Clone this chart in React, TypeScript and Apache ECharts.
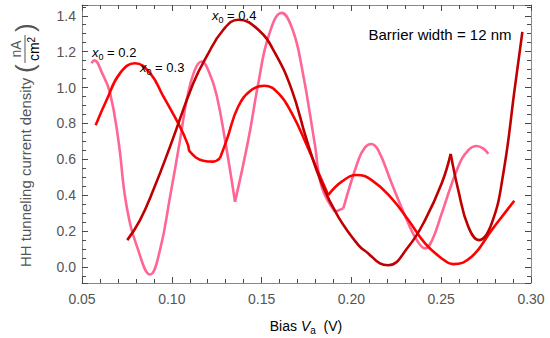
import React, { useEffect, useRef } from 'react';
import * as echarts from 'echarts';

const FONT = '"Liberation Sans", Arial, Helvetica, sans-serif';

// Axis ranges and tick spacing
const xRange = [0.05, 0.3];
const xMajorStep = 0.05;
const xMinorStep = 0.01;
const yRange = [-0.09, 1.46];
const yMajorStep = 0.2;
const yMinorStep = 0.05;

// Curves: [bias V, current density nA/cm^2]
const curveX02 = [
  [0.0553, 1.135], [0.0569, 1.151], [0.0612, 1.08], [0.0656, 0.97], [0.0702, 0.71], [0.0749, 0.335],
  [0.0813, 0.093], [0.0879, -0.043], [0.0934, 0.093], [0.099, 0.39], [0.1046, 0.708], [0.1083, 0.93],
  [0.1125, 1.09], [0.1166, 1.145], [0.121, 1.08], [0.125, 0.955], [0.1296, 0.71], [0.1352, 0.363],
  [0.1426, 0.708], [0.1482, 1.025], [0.154, 1.29], [0.1612, 1.416], [0.167, 1.33], [0.1723, 1.117],
  [0.1797, 0.68], [0.1834, 0.447], [0.1909, 0.307], [0.1955, 0.326], [0.2039, 0.596], [0.2075, 0.665],
  [0.211, 0.685], [0.215, 0.65], [0.2224, 0.466], [0.2317, 0.242], [0.237, 0.14], [0.241, 0.103],
  [0.245, 0.15], [0.2503, 0.298], [0.2595, 0.559], [0.265, 0.65], [0.2698, 0.674], [0.274, 0.655],
  [0.2762, 0.63],
];
const cuspsX02 = [0.1352, 0.1909, 0.1955];

const curveX03 = [
  [0.0576, 0.79], [0.0637, 0.93], [0.0712, 1.08], [0.0795, 1.135], [0.0879, 1.08], [0.0953, 0.95],
  [0.1046, 0.78], [0.109, 0.68], [0.1101, 0.642], [0.1175, 0.592], [0.1231, 0.587], [0.1268, 0.606],
  [0.1306, 0.708], [0.137, 0.894], [0.1445, 0.987], [0.1515, 1.01], [0.1593, 0.969], [0.1668, 0.857],
  [0.1751, 0.68], [0.181, 0.54], [0.1871, 0.4], [0.1946, 0.475], [0.203, 0.512], [0.2113, 0.484],
  [0.2224, 0.382], [0.2317, 0.261], [0.241, 0.131], [0.2503, 0.047], [0.2567, 0.015], [0.2669, 0.056],
  [0.2781, 0.205], [0.2907, 0.369],
];
const cuspsX03 = [0.1268, 0.1871];

const curveX04 = [
  [0.0752, 0.149], [0.0823, 0.261], [0.0897, 0.428], [0.099, 0.67], [0.112, 1.025], [0.1194, 1.173],
  [0.1287, 1.322], [0.137, 1.378], [0.1482, 1.322], [0.1575, 1.192], [0.1668, 0.987], [0.1751, 0.708],
  [0.1834, 0.466], [0.1927, 0.279], [0.2039, 0.121], [0.2094, 0.075], [0.2159, 0.019], [0.2205, 0.009],
  [0.2317, 0.112], [0.241, 0.261], [0.2503, 0.466], [0.2553, 0.63], [0.2595, 0.428], [0.2651, 0.223],
  [0.271, 0.149], [0.2781, 0.242], [0.2846, 0.522], [0.2911, 1.006], [0.2952, 1.31],
];
const cuspsX04 = [0.2553];

const curveColors = ['#FF6694', '#FF0000', '#C00000'];
const curveLabels = ['0.2', '0.3', '0.4'];

function splitAtCusps(points: number[][], cusps: number[]) {
  const segs: number[][][] = [];
  let cur: number[][] = [];
  for (const p of points) {
    cur.push(p);
    if (cusps.includes(p[0])) {
      segs.push(cur);
      cur = [p];
    }
  }
  if (cur.length > 1) segs.push(cur);
  return segs;
}

export default function App() {
  const ref = useRef<HTMLDivElement>(null);

  useEffect(() => {
    document.body.style.margin = '0';
    if (!ref.current) return;
    const chart = echarts.init(ref.current, undefined, { renderer: 'svg' });

    const curves = [
      [curveX02, cuspsX02],
      [curveX03, cuspsX03],
      [curveX04, cuspsX04],
    ] as [number[][], number[]][];

    const series: any[] = [];
    curves.forEach(([pts, cusps], ci) => {
      splitAtCusps(pts, cusps).forEach((seg) => {
        series.push({
          type: 'line',
          name: 'x0 = ' + curveLabels[ci],
          data: seg,
          smooth: 0.45,
          showSymbol: false,
          symbol: 'none',
          lineStyle: { color: curveColors[ci], width: 2.6 },
          z: 2 + ci,
          xAxisIndex: 0,
          yAxisIndex: 0,
        });
      });
    });

    const frame = '#888888';
    const tickColor = '#4a4a4a';
    const ySpan = yRange[1] - yRange[0];

    const yLabel = (v: number) => {
      const r = Math.round(v / yMajorStep) * yMajorStep;
      return Math.abs(v - r) < 1e-6 && r >= 0 ? r.toFixed(1) : '';
    };

    const labRich = {
      i: { fontStyle: 'italic', fontSize: 13, lineHeight: 18, fontFamily: FONT, color: '#000' },
      s: { fontSize: 9, lineHeight: 8, verticalAlign: 'bottom', fontFamily: FONT, color: '#000' },
      n: { fontSize: 13, lineHeight: 18, fontFamily: FONT, color: '#000' },
    };

    const option: any = {
      animation: false,
      grid: { left: 82, right: 19, top: 5, bottom: 55, outerBoundsMode: 'none' },
      xAxis: [
        {
          type: 'value', min: xRange[0], max: xRange[1], interval: xMajorStep, position: 'bottom',
          splitLine: { show: false },
          axisLine: { show: true, onZero: false, lineStyle: { color: frame, width: 1 } },
          axisTick: { show: true, inside: true, length: 6, lineStyle: { color: tickColor, width: 1 } },
          axisLabel: {
            formatter: (v: number) => v.toFixed(2), color: '#555',
            fontSize: 14, fontFamily: FONT, margin: 9, showMinLabel: true, showMaxLabel: true,
          },
        },
        {
          type: 'value', min: xRange[0], max: xRange[1], interval: xMinorStep, position: 'bottom',
          splitLine: { show: false },
          axisLine: { show: false, onZero: false },
          axisTick: { show: true, inside: true, length: 4, lineStyle: { color: tickColor, width: 1 } },
          axisLabel: { show: false },
        },
        {
          type: 'value', min: xRange[0], max: xRange[1], interval: xMajorStep, position: 'top',
          splitLine: { show: false },
          axisLine: { show: true, onZero: false, lineStyle: { color: frame, width: 1 } },
          axisTick: { show: true, inside: true, length: 6, lineStyle: { color: tickColor, width: 1 } },
          axisLabel: { show: false },
        },
        {
          type: 'value', min: xRange[0], max: xRange[1], interval: xMinorStep, position: 'top',
          splitLine: { show: false },
          axisLine: { show: false, onZero: false },
          axisTick: { show: true, inside: true, length: 4, lineStyle: { color: tickColor, width: 1 } },
          axisLabel: { show: false },
        },
      ],
      yAxis: [
        {
          type: 'value', min: yRange[0], max: yRange[1], splitNumber: Math.round(ySpan / yMajorStep * 1.03),
          position: 'left', splitLine: { show: false },
          axisLine: { show: true, onZero: false, lineStyle: { color: frame, width: 1 } },
          axisTick: { show: true, inside: true, length: 6, lineStyle: { color: tickColor, width: 1 } },
          axisLabel: {
            formatter: yLabel, color: '#555',
            fontSize: 14, fontFamily: FONT, margin: 6, showMinLabel: true, showMaxLabel: true,
          },
        },
        {
          type: 'value', min: yRange[0], max: yRange[1], splitNumber: Math.round(ySpan / yMinorStep),
          position: 'left', splitLine: { show: false },
          axisLine: { show: false, onZero: false },
          axisTick: { show: true, inside: true, length: 4, lineStyle: { color: tickColor, width: 1 } },
          axisLabel: { show: false },
        },
        {
          type: 'value', min: yRange[0], max: yRange[1], splitNumber: Math.round(ySpan / yMajorStep * 1.03),
          position: 'right', splitLine: { show: false },
          axisLine: { show: true, onZero: false, lineStyle: { color: frame, width: 1 } },
          axisTick: { show: true, inside: true, length: 6, lineStyle: { color: tickColor, width: 1 } },
          axisLabel: { show: false },
        },
        {
          type: 'value', min: yRange[0], max: yRange[1], splitNumber: Math.round(ySpan / yMinorStep),
          position: 'right', splitLine: { show: false },
          axisLine: { show: false, onZero: false },
          axisTick: { show: true, inside: true, length: 4, lineStyle: { color: tickColor, width: 1 } },
          axisLabel: { show: false },
        },
      ],
      series,
      graphic: [
        {
          type: 'text', x: 92, y: 52,
          style: { text: '{i|x}{s|0}{n| = ' + curveLabels[0] + '}', rich: labRich, align: 'left', verticalAlign: 'middle' },
          z: 10,
        },
        {
          type: 'text', x: 140, y: 67,
          style: { text: '{i|x}{s|0}{n| = ' + curveLabels[1] + '}', rich: labRich, align: 'left', verticalAlign: 'middle' },
          z: 10,
        },
        {
          type: 'text', x: 212, y: 15,
          style: { text: '{i|x}{s|0}{n| = ' + curveLabels[2] + '}', rich: labRich, align: 'left', verticalAlign: 'middle' },
          z: 10,
        },
        {
          type: 'text', x: 440, y: 34,
          style: { text: 'Barrier width = 12 nm', fontSize: 15, fontFamily: FONT, fill: '#000', align: 'center', verticalAlign: 'middle' },
          z: 10,
        },
        {
          type: 'text', x: 306, y: 326,
          style: {
            text: '{n|Bias }{i|V}{s|a}{n|  (V)}',
            rich: {
              n: { fontSize: 14, lineHeight: 18, fontFamily: FONT, color: '#555' },
              i: { fontSize: 14, lineHeight: 18, fontStyle: 'italic', fontFamily: FONT, color: '#555' },
              s: { fontSize: 10, lineHeight: 9, verticalAlign: 'bottom', fontFamily: FONT, color: '#555' },
            },
            align: 'center', verticalAlign: 'middle',
          },
        },
        {
          type: 'group', x: 25, y: 143, rotation: Math.PI / 2,
          children: [
            {
              type: 'text', x: -124, y: 0,
              style: { text: 'HH tunneling current density', fontSize: 15, fontFamily: FONT, fill: '#555', align: 'left', verticalAlign: 'middle' },
            },
            {
              type: 'text', x: 70, y: 0,
              style: { text: '(', fontSize: 26, fontFamily: FONT, fill: '#555', align: 'left', verticalAlign: 'middle' },
            },
            {
              type: 'text', x: 94, y: -9,
              style: { text: 'nA', fontSize: 14, fontFamily: FONT, fill: '#555', align: 'center', verticalAlign: 'middle' },
            },
            {
              type: 'line', shape: { x1: 80, y1: 0, x2: 108, y2: 0 },
              style: { stroke: '#555', lineWidth: 1 },
            },
            {
              type: 'text', x: 94, y: 9,
              style: {
                text: '{a|cm}{b|2}',
                rich: {
                  a: { fontSize: 14, lineHeight: 16, fontFamily: FONT, color: '#555' },
                  b: { fontSize: 10, lineHeight: 10, verticalAlign: 'top', fontFamily: FONT, color: '#555' },
                },
                align: 'center', verticalAlign: 'middle',
              },
            },
            {
              type: 'text', x: 111, y: 0,
              style: { text: ')', fontSize: 26, fontFamily: FONT, fill: '#555', align: 'left', verticalAlign: 'middle' },
            },
          ],
        },
      ],
    };

    chart.setOption(option);
    return () => chart.dispose();
  }, []);

  return (
    <div
      ref={ref}
      style={{ position: 'fixed', left: 0, top: 0, width: 550, height: 338, background: '#fff' }}
    />
  );
}
